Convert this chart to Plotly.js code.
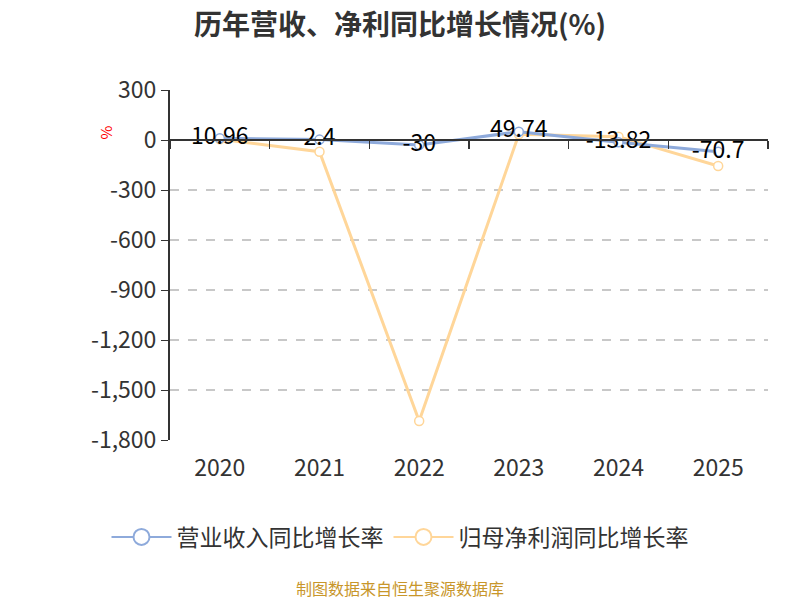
<!DOCTYPE html>
<html>
<head>
<meta charset="utf-8">
<script src="https://cdn.plot.ly/plotly-3.0.1.min.js"></script>
<style>html,body{margin:0;padding:0;background:#fff;}#chart{width:800px;height:600px;}</style>
</head>
<body>
<div id="chart"></div>
<script>
const years = ['2020', '2021', '2022', '2023', '2024', '2025'];
const revenueGrowth = [10.96, 2.4, -30, 49.74, -13.82, -70.7];
const profitGrowth = [5, -70, -1686, 34, 20, -156];
const revenueLabels = ['10.96', '2.4', '-30', '49.74', '-13.82', '-70.7'];
const yTicks = [300, 0, -300, -600, -900, -1200, -1500, -1800];
const yTickText = ['300', '0', '-300', '-600', '-900', '-1,200', '-1,500', '-1,800'];
const seriesNames = ['营业收入同比增长率', '归母净利润同比增长率'];

const FONT = '"Noto Sans CJK SC", "Noto Sans", sans-serif';
const BLUE = '#8eaadb', YELLOW = '#ffd699';
const xIdx = years.map((_, i) => i);

const traces = [
  {
    x: xIdx, y: profitGrowth, name: seriesNames[1], showlegend: false,
    type: 'scatter', mode: 'lines+markers',
    line: {color: YELLOW, width: 3},
    marker: {symbol: 'circle', size: 9, color: '#fff', line: {color: YELLOW, width: 1.5}},
    cliponaxis: false
  },
  {
    x: xIdx, y: revenueGrowth, name: seriesNames[0], showlegend: false,
    type: 'scatter', mode: 'lines+markers+text',
    text: revenueLabels, textposition: 'middle center',
    textfont: {family: FONT, size: 23, color: '#000'},
    line: {color: BLUE, width: 3},
    marker: {symbol: 'circle', size: 9, color: '#fff', line: {color: BLUE, width: 1.5}},
    cliponaxis: false
  },
  {x: [null], y: [null], name: seriesNames[0], type: 'scatter', mode: 'lines+markers',
   line: {color: BLUE, width: 2}, marker: {symbol: 'circle', size: 19, color: '#fff', line: {color: BLUE, width: 2}}},
  {x: [null], y: [null], name: seriesNames[1], type: 'scatter', mode: 'lines+markers',
   line: {color: YELLOW, width: 2}, marker: {symbol: 'circle', size: 19, color: '#fff', line: {color: YELLOW, width: 2}}},
  {x: [0], y: [0], xaxis: 'x2', yaxis: 'y', type: 'scatter', mode: 'markers',
   marker: {opacity: 0}, showlegend: false, hoverinfo: 'skip'}
];

const layout = {
  width: 800, height: 600,
  margin: {l: 170, r: 32, t: 90, b: 160, autoexpand: false},
  paper_bgcolor: '#fff', plot_bgcolor: '#fff',
  font: {family: FONT, color: '#333'},
  title: {text: '<b>历年营收、净利同比增长情况(%)</b>', x: 0.5, xanchor: 'center', y: 0.958, yanchor: 'middle',
          font: {family: FONT, size: 28, color: '#333'}},
  showlegend: true,
  legend: {orientation: 'h', x: (400 - 170) / 598, xanchor: 'center', y: -0.277, yanchor: 'middle',
           font: {family: FONT, size: 23, color: '#333'}, itemwidth: 60},
  xaxis: {
    range: [-0.5, 5.5], tickvals: xIdx, ticktext: years,
    showline: false, showgrid: false, zeroline: false, ticks: '',
    ticklabelstandoff: 12, tickangle: 0, automargin: false,
    tickfont: {family: FONT, size: 23, color: '#333'}
  },
  xaxis2: {
    overlaying: 'x', anchor: 'free', position: 1800 / 2100, side: 'bottom',
    range: [-0.5, 5.5], tickvals: [-0.5, 0.5, 1.5, 2.5, 3.5, 4.5, 5.5],
    showticklabels: false, showline: true, linecolor: '#333', linewidth: 2,
    ticks: 'outside', ticklen: 8, tickcolor: '#333', tickwidth: 1.5,
    showgrid: false, zeroline: false
  },
  yaxis: {
    range: [-1800, 300], tickvals: yTicks, ticktext: yTickText, automargin: false,
    showline: true, linecolor: '#333', linewidth: 2,
    ticks: 'outside', ticklen: 7, tickcolor: '#333',
    showgrid: true, gridcolor: '#c8c8c8', griddash: 'dash', gridwidth: 1.5,
    zeroline: false,
    tickfont: {family: FONT, size: 23, color: '#333'}
  },
  annotations: [
    {text: '%', xref: 'paper', yref: 'paper', x: -0.108, y: (440 - 132) / 350, showarrow: false,
     textangle: -90, font: {family: FONT, size: 15, color: '#ff0000'}, xanchor: 'center', yanchor: 'middle'},
    {text: '制图数据来自恒生聚源数据库', xref: 'paper', yref: 'paper', x: (400 - 170) / 598, y: (440 - 588) / 350,
     showarrow: false, font: {family: FONT, size: 16, color: '#c8962a'}, xanchor: 'center', yanchor: 'middle'}
  ]
};

Plotly.newPlot('chart', traces, layout, {displayModeBar: false, staticPlot: true});
</script>
</body>
</html>
